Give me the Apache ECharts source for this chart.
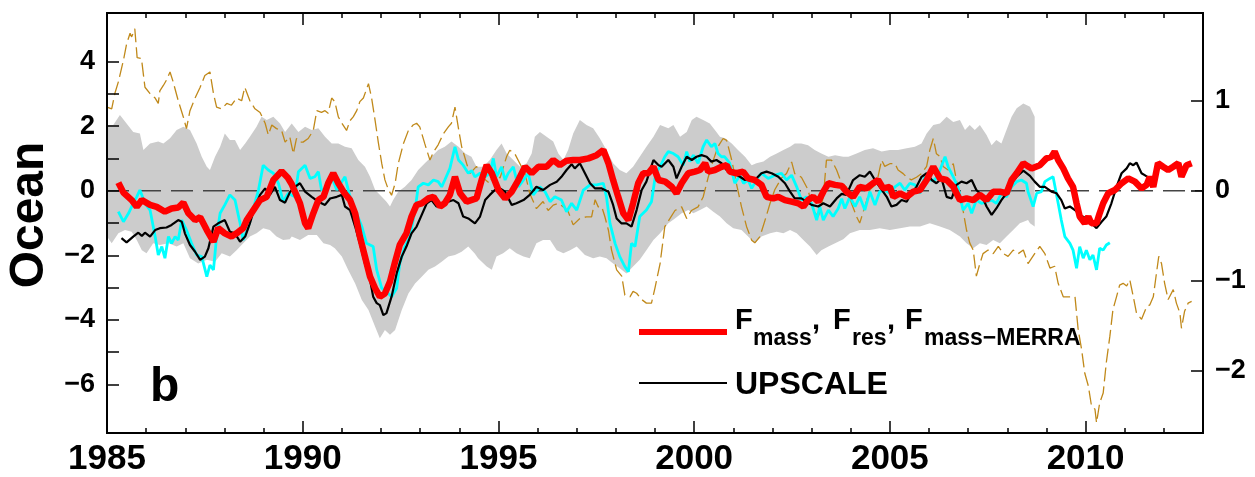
<!DOCTYPE html>
<html>
<head>
<meta charset="utf-8">
<script src="https://cdn.jsdelivr.net/npm/echarts@6/dist/echarts.min.js"></script>
<style>
    html, body { margin: 0; padding: 0; background: #fff; }
    #chart { width: 1255px; height: 477px; }
</style>
</head>
<body>
<div id="chart"></div>
<script>
// ticks and labels
const majorYears = [1985, 1990, 1995, 2000, 2005, 2010];
const minorYears = [1986, 1987, 1988, 1989, 1991, 1992, 1993, 1994, 1996, 1997, 1998, 1999,
    2001, 2002, 2003, 2004, 2006, 2007, 2008, 2009, 2011, 2012];
const leftTicks = [-6, -5, -4, -3, -2, -1, 0, 1, 2, 3, 4];
const leftLabels = [-6, -4, -2, 0, 2, 4];
const rightTicks = [-2, -1, 0, 1];
const rightPerLeft = 2.784; // left units per right unit

// grey spread, left axis
const bandUpper = [[1985.00,2.03],[1985.16,2.03],[1985.33,2.34],[1985.50,2.08],[1985.67,1.82],[1985.84,1.77],[1985.93,1.26],[1986.10,1.46],[1986.31,1.52],[1986.44,1.46],[1986.61,1.62],[1986.78,1.88],[1986.95,1.98],[1987.12,1.88],[1987.29,1.46],[1987.42,1.05],[1987.55,0.74],[1987.63,0.64],[1987.76,1.05],[1987.89,1.36],[1988.01,1.77],[1988.14,1.57],[1988.27,1.57],[1988.40,1.26],[1988.53,1.46],[1988.65,1.67],[1988.82,1.98],[1988.95,2.29],[1989.08,2.19],[1989.25,2.29],[1989.42,2.08],[1989.55,1.82],[1989.72,2.08],[1989.89,1.82],[1990.06,1.98],[1990.23,1.88],[1990.40,1.93],[1990.57,1.67],[1990.74,1.46],[1990.91,1.46],[1991.08,1.36],[1991.25,1.31],[1991.42,0.95],[1991.59,0.74],[1991.72,0.43],[1991.85,0.02],[1992.02,-0.19],[1992.14,-0.34],[1992.23,-0.49],[1992.31,-0.29],[1992.44,-0.03],[1992.61,0.12],[1992.78,0.33],[1992.95,0.64],[1993.12,0.85],[1993.29,1.05],[1993.46,1.26],[1993.63,1.36],[1993.80,1.52],[1993.98,1.36],[1994.15,1.15],[1994.31,1.05],[1994.44,0.74],[1994.61,0.74],[1994.78,0.95],[1994.95,1.26],[1995.08,1.46],[1995.21,1.15],[1995.38,0.95],[1995.55,0.74],[1995.72,0.85],[1995.85,1.15],[1995.93,1.67],[1996.06,1.82],[1996.23,1.67],[1996.40,1.52],[1996.53,1.15],[1996.66,0.95],[1996.78,1.26],[1996.91,1.77],[1997.08,2.19],[1997.25,2.03],[1997.42,1.93],[1997.59,1.62],[1997.76,1.26],[1997.93,0.85],[1998.10,0.64],[1998.27,0.54],[1998.44,0.74],[1998.61,1.05],[1998.78,1.36],[1998.96,1.67],[1999.13,2.03],[1999.34,1.93],[1999.47,2.03],[1999.64,1.67],[1999.81,1.82],[1999.94,2.19],[2000.06,2.29],[2000.23,2.19],[2000.40,2.08],[2000.53,1.88],[2000.66,1.67],[2000.79,1.62],[2000.96,1.46],[2001.12,1.26],[2001.30,1.05],[2001.47,0.79],[2001.59,0.85],[2001.77,0.90],[2001.94,1.05],[2002.11,1.15],[2002.28,1.26],[2002.45,1.36],[2002.57,1.46],[2002.74,1.46],[2002.91,1.41],[2003.08,1.26],[2003.25,1.15],[2003.43,1.05],[2003.60,1.10],[2003.81,1.05],[2003.94,1.05],[2004.15,1.15],[2004.36,1.26],[2004.57,1.31],[2004.79,1.21],[2005.00,1.26],[2005.21,1.26],[2005.43,1.31],[2005.64,1.36],[2005.81,1.46],[2005.94,1.77],[2006.11,2.03],[2006.28,2.08],[2006.45,2.29],[2006.62,2.13],[2006.79,2.19],[2006.92,1.88],[2007.04,2.03],[2007.17,1.88],[2007.30,2.03],[2007.47,1.72],[2007.60,1.41],[2007.72,1.57],[2007.85,1.46],[2007.98,1.88],[2008.11,2.29],[2008.24,2.55],[2008.41,2.70],[2008.58,2.60],[2008.70,2.29]];
const bandLower = [[1985.00,-1.42],[1985.12,-1.63],[1985.29,-1.32],[1985.46,-1.22],[1985.63,-1.27],[1985.76,-1.53],[1985.89,-1.84],[1986.01,-1.94],[1986.18,-1.63],[1986.35,-1.68],[1986.57,-1.63],[1986.78,-1.73],[1986.95,-1.63],[1987.12,-2.09],[1987.33,-2.25],[1987.55,-2.14],[1987.76,-2.20],[1987.93,-1.94],[1988.14,-2.04],[1988.31,-1.84],[1988.48,-1.63],[1988.65,-1.42],[1988.82,-1.32],[1988.99,-1.16],[1989.16,-1.22],[1989.33,-1.42],[1989.50,-1.53],[1989.67,-1.50],[1989.72,-1.42],[1989.93,-1.53],[1990.14,-1.37],[1990.36,-1.37],[1990.53,-1.63],[1990.70,-1.68],[1990.82,-1.78],[1991.00,-2.04],[1991.16,-2.45],[1991.34,-2.87],[1991.51,-3.38],[1991.68,-3.69],[1991.85,-4.21],[1991.97,-4.57],[1992.10,-4.31],[1992.23,-4.46],[1992.36,-4.31],[1992.53,-3.69],[1992.70,-3.18],[1992.87,-2.87],[1993.04,-2.66],[1993.21,-2.45],[1993.38,-2.35],[1993.55,-2.20],[1993.72,-2.04],[1993.89,-1.99],[1994.06,-1.89],[1994.23,-1.73],[1994.40,-1.95],[1994.48,-2.09],[1994.70,-2.35],[1994.83,-2.45],[1994.95,-2.04],[1995.12,-1.94],[1995.29,-1.78],[1995.46,-1.94],[1995.64,-2.04],[1995.80,-2.09],[1995.97,-1.63],[1996.14,-1.53],[1996.32,-1.53],[1996.49,-1.84],[1996.66,-1.94],[1996.83,-1.84],[1997.00,-1.73],[1997.21,-1.99],[1997.42,-2.09],[1997.59,-2.04],[1997.76,-2.09],[1997.93,-2.25],[1998.10,-2.40],[1998.27,-2.56],[1998.44,-2.35],[1998.61,-2.14],[1998.78,-1.84],[1998.96,-1.53],[1999.13,-1.32],[1999.34,-1.01],[1999.51,-0.86],[1999.68,-0.70],[1999.85,-0.60],[1999.98,-0.70],[2000.15,-0.60],[2000.32,-0.49],[2000.49,-0.65],[2000.66,-0.80],[2000.83,-1.01],[2001.00,-1.16],[2001.21,-1.22],[2001.38,-1.42],[2001.55,-1.63],[2001.72,-1.42],[2001.94,-1.32],[2002.11,-1.27],[2002.28,-1.32],[2002.45,-1.22],[2002.62,-1.32],[2002.79,-1.53],[2002.96,-1.73],[2003.13,-1.99],[2003.25,-1.84],[2003.43,-1.73],[2003.60,-1.63],[2003.81,-1.50],[2003.98,-1.32],[2004.23,-1.22],[2004.49,-1.22],[2004.74,-1.16],[2005.00,-1.22],[2005.26,-1.16],[2005.51,-1.11],[2005.77,-1.11],[2006.02,-1.01],[2006.28,-1.11],[2006.53,-1.22],[2006.79,-1.42],[2006.96,-1.63],[2007.13,-1.78],[2007.30,-1.63],[2007.47,-1.68],[2007.64,-1.53],[2007.81,-1.63],[2007.98,-1.42],[2008.15,-1.22],[2008.32,-1.01],[2008.53,-0.91],[2008.58,-1.01],[2008.70,-1.11]];

// F_mass, F_res, F_mass-MERRA (red)
const fmass = [[1985.29,0.25],[1985.42,-0.06],[1985.63,-0.29],[1985.76,-0.50],[1985.89,-0.29],[1986.10,-0.44],[1986.27,-0.50],[1986.48,-0.65],[1986.65,-0.55],[1986.82,-0.52],[1986.95,-0.37],[1987.08,-0.70],[1987.25,-0.91],[1987.38,-0.82],[1987.55,-1.22],[1987.72,-1.58],[1987.84,-1.16],[1988.01,-1.32],[1988.18,-1.42],[1988.31,-1.32],[1988.48,-1.16],[1988.57,-0.91],[1988.74,-0.60],[1988.91,-0.29],[1989.08,-0.19],[1989.25,0.33],[1989.46,0.60],[1989.62,0.40],[1989.72,0.20],[1989.80,-0.03],[1989.93,-0.39],[1990.06,-1.01],[1990.14,-1.16],[1990.27,-0.70],[1990.40,-0.29],[1990.53,-0.19],[1990.65,0.23],[1990.78,0.54],[1990.91,0.23],[1991.04,-0.03],[1991.21,-0.29],[1991.34,-0.70],[1991.46,-1.42],[1991.59,-2.04],[1991.72,-2.66],[1991.85,-3.02],[1991.97,-3.28],[1992.10,-3.18],[1992.23,-2.81],[1992.36,-2.20],[1992.48,-1.68],[1992.65,-1.32],[1992.78,-0.80],[1992.91,-0.44],[1993.04,-0.39],[1993.21,-0.24],[1993.34,-0.19],[1993.51,-0.49],[1993.63,-0.39],[1993.76,-0.13],[1993.89,0.43],[1994.02,-0.08],[1994.19,-0.34],[1994.36,-0.27],[1994.44,-0.24],[1994.57,0.33],[1994.70,0.79],[1994.83,0.54],[1995.00,0.02],[1995.17,-0.24],[1995.34,-0.03],[1995.51,0.33],[1995.68,0.74],[1995.85,0.54],[1996.02,0.74],[1996.23,0.74],[1996.40,0.95],[1996.57,0.79],[1996.74,0.93],[1996.91,0.95],[1997.08,0.95],[1997.30,1.00],[1997.51,1.10],[1997.68,1.26],[1997.81,0.85],[1997.93,0.33],[1998.06,-0.19],[1998.19,-0.70],[1998.32,-0.91],[1998.44,-0.39],[1998.57,0.23],[1998.70,0.54],[1998.83,0.54],[1998.96,0.74],[1999.09,0.33],[1999.26,0.28],[1999.43,0.12],[1999.55,-0.08],[1999.68,0.23],[1999.85,0.54],[2000.02,0.59],[2000.15,0.64],[2000.28,0.85],[2000.36,0.59],[2000.53,0.64],[2000.70,0.74],[2000.83,0.79],[2000.91,0.59],[2001.08,0.54],[2001.25,0.59],[2001.38,0.38],[2001.55,0.33],[2001.72,0.18],[2001.85,-0.19],[2002.02,-0.24],[2002.15,-0.19],[2002.32,-0.29],[2002.49,-0.34],[2002.66,-0.39],[2002.79,-0.49],[2002.91,-0.29],[2003.04,-0.19],[2003.17,-0.34],[2003.30,-0.03],[2003.43,0.23],[2003.60,0.18],[2003.77,0.15],[2003.89,-0.03],[2004.06,-0.19],[2004.23,0.12],[2004.40,0.07],[2004.57,0.23],[2004.70,0.33],[2004.83,0.07],[2005.00,0.12],[2005.09,-0.19],[2005.26,-0.08],[2005.43,-0.19],[2005.60,-0.03],[2005.77,0.02],[2005.94,0.33],[2006.11,0.74],[2006.28,0.38],[2006.45,0.33],[2006.62,0.12],[2006.79,-0.29],[2006.96,-0.24],[2007.13,-0.29],[2007.30,-0.13],[2007.47,-0.29],[2007.64,-0.03],[2007.81,-0.03],[2007.98,-0.08],[2008.11,0.33],[2008.24,0.54],[2008.41,0.85],[2008.52,0.76],[2008.62,0.69],[2008.83,0.79],[2009.00,1.00],[2009.13,1.05],[2009.21,1.21],[2009.30,0.95],[2009.43,0.69],[2009.55,0.38],[2009.68,0.12],[2009.77,-0.39],[2009.85,-0.80],[2009.98,-1.01],[2010.07,-0.80],[2010.15,-1.01],[2010.28,-1.01],[2010.36,-0.70],[2010.45,-0.39],[2010.58,-0.08],[2010.75,0.02],[2010.92,0.23],[2011.09,0.38],[2011.26,0.28],[2011.43,0.07],[2011.56,0.18],[2011.64,0.43],[2011.73,0.12],[2011.85,0.85],[2011.98,0.74],[2012.11,0.64],[2012.24,0.74],[2012.37,0.85],[2012.45,0.43],[2012.58,0.79],[2012.71,0.85]];

// UPSCALE (black)
const upscale = [[1985.37,-1.47],[1985.50,-1.60],[1985.67,-1.42],[1985.80,-1.30],[1985.89,-1.40],[1985.97,-1.30],[1986.10,-1.42],[1986.23,-1.22],[1986.35,-1.16],[1986.52,-1.14],[1986.65,-1.06],[1986.82,-0.91],[1986.91,-0.96],[1986.99,-1.32],[1987.12,-1.68],[1987.25,-1.89],[1987.38,-2.14],[1987.50,-2.04],[1987.59,-1.78],[1987.72,-1.11],[1987.84,-1.01],[1988.01,-0.91],[1988.14,-1.27],[1988.27,-1.32],[1988.40,-1.58],[1988.53,-1.42],[1988.65,-1.01],[1988.78,-0.49],[1988.91,-0.13],[1989.04,0.07],[1989.16,-0.13],[1989.29,0.12],[1989.42,-0.29],[1989.55,-0.37],[1989.68,-0.03],[1989.80,0.12],[1989.93,0.23],[1990.06,-0.03],[1990.23,-0.19],[1990.40,-0.34],[1990.57,-0.44],[1990.70,-0.24],[1990.87,-0.19],[1991.00,-0.13],[1991.08,-0.49],[1991.21,-0.60],[1991.34,-1.11],[1991.46,-1.63],[1991.59,-2.25],[1991.72,-2.76],[1991.80,-3.28],[1991.89,-3.48],[1991.97,-3.54],[1992.06,-3.85],[1992.14,-3.79],[1992.27,-3.28],[1992.40,-2.56],[1992.53,-2.04],[1992.65,-1.73],[1992.78,-1.32],[1992.91,-1.11],[1993.04,-0.75],[1993.17,-0.39],[1993.29,-0.29],[1993.42,-0.49],[1993.55,-0.49],[1993.72,-0.34],[1993.85,-0.29],[1993.98,-0.39],[1994.10,-0.80],[1994.23,-0.86],[1994.40,-1.01],[1994.53,-0.80],[1994.66,-0.29],[1994.78,-0.13],[1994.91,0.02],[1995.04,0.07],[1995.17,-0.03],[1995.34,-0.44],[1995.46,-0.39],[1995.64,-0.29],[1995.80,-0.13],[1995.97,0.12],[1996.14,0.02],[1996.32,0.18],[1996.49,0.28],[1996.61,0.43],[1996.74,0.64],[1996.87,0.82],[1996.95,0.69],[1997.08,0.85],[1997.21,0.54],[1997.34,0.23],[1997.47,0.07],[1997.64,0.07],[1997.81,-0.03],[1997.93,-0.44],[1998.02,-0.86],[1998.14,-1.01],[1998.27,-1.01],[1998.40,-1.11],[1998.53,-0.60],[1998.66,0.02],[1998.78,0.28],[1998.96,0.95],[1999.08,0.80],[1999.17,0.74],[1999.34,0.95],[1999.47,0.74],[1999.55,0.38],[1999.68,0.74],[1999.81,1.05],[1999.94,0.95],[2000.06,1.05],[2000.19,1.10],[2000.32,1.05],[2000.44,0.90],[2000.57,0.95],[2000.70,0.85],[2000.83,0.64],[2001.00,0.54],[2001.17,0.43],[2001.30,0.33],[2001.42,0.38],[2001.55,0.33],[2001.72,0.54],[2001.85,0.59],[2001.98,0.54],[2002.15,0.43],[2002.32,0.23],[2002.45,-0.03],[2002.57,-0.24],[2002.74,-0.24],[2002.87,-0.34],[2003.00,-0.44],[2003.17,-0.49],[2003.30,-0.39],[2003.47,-0.49],[2003.64,-0.24],[2003.77,-0.10],[2003.89,-0.13],[2004.06,0.33],[2004.23,0.48],[2004.36,0.43],[2004.49,0.59],[2004.62,0.33],[2004.74,0.12],[2004.92,-0.19],[2005.04,-0.49],[2005.17,-0.44],[2005.30,-0.29],[2005.43,-0.34],[2005.55,-0.08],[2005.68,0.12],[2005.81,0.43],[2005.94,0.54],[2006.07,0.33],[2006.19,0.23],[2006.32,0.38],[2006.45,-0.19],[2006.58,-0.24],[2006.70,0.18],[2006.83,0.28],[2006.96,0.23],[2007.09,0.33],[2007.21,0.02],[2007.34,-0.13],[2007.47,-0.49],[2007.60,-0.75],[2007.72,-0.55],[2007.85,-0.29],[2007.98,-0.08],[2008.11,0.23],[2008.24,0.43],[2008.41,0.62],[2008.58,0.46],[2008.70,0.28],[2008.83,0.12],[2008.96,0.12],[2009.13,-0.03],[2009.26,-0.08],[2009.38,-0.29],[2009.47,-0.55],[2009.60,-0.49],[2009.73,-0.60],[2009.85,-0.75],[2010.02,-0.86],[2010.15,-1.01],[2010.28,-1.16],[2010.41,-0.96],[2010.53,-0.80],[2010.66,-0.39],[2010.79,0.12],[2010.92,0.54],[2011.05,0.69],[2011.13,0.85],[2011.22,0.79],[2011.30,0.87],[2011.43,0.54],[2011.51,0.48],[2011.64,0.38]];

// cyan series, left axis
const cyanSeries = [[1985.29,-0.65],[1985.42,-0.96],[1985.55,-0.70],[1985.67,-0.39],[1985.76,-0.19],[1985.84,0.02],[1985.97,-0.39],[1986.10,-0.60],[1986.23,-1.42],[1986.31,-1.99],[1986.40,-1.73],[1986.48,-2.09],[1986.57,-1.42],[1986.65,-1.63],[1986.74,-1.42],[1986.82,-1.53],[1986.91,-0.91],[1987.03,-1.22],[1987.16,-1.63],[1987.29,-1.99],[1987.42,-2.04],[1987.55,-2.66],[1987.63,-2.30],[1987.72,-2.45],[1987.80,-1.42],[1987.89,-0.70],[1988.01,-0.44],[1988.14,-0.13],[1988.27,-0.29],[1988.40,-1.01],[1988.48,-1.53],[1988.61,-1.11],[1988.74,-0.55],[1988.87,0.02],[1988.99,0.79],[1989.12,0.64],[1989.25,0.54],[1989.38,0.23],[1989.50,-0.34],[1989.63,-0.08],[1989.80,-0.19],[1989.89,0.59],[1990.06,0.79],[1990.19,0.38],[1990.31,0.43],[1990.40,0.59],[1990.48,0.02],[1990.61,0.07],[1990.74,0.43],[1990.87,0.02],[1991.00,0.28],[1991.08,0.43],[1991.21,-0.19],[1991.34,-0.60],[1991.51,-1.11],[1991.63,-1.63],[1991.80,-1.73],[1991.89,-2.45],[1992.02,-3.02],[1992.14,-3.12],[1992.27,-3.28],[1992.40,-3.02],[1992.48,-2.25],[1992.61,-1.73],[1992.74,-1.42],[1992.87,-0.60],[1992.95,0.12],[1993.08,0.23],[1993.21,0.18],[1993.34,0.33],[1993.46,0.28],[1993.55,0.12],[1993.63,0.33],[1993.76,0.69],[1993.89,1.36],[1993.98,0.95],[1994.10,0.79],[1994.23,0.54],[1994.32,0.62],[1994.40,0.43],[1994.53,0.54],[1994.66,0.43],[1994.78,0.54],[1994.87,1.00],[1994.95,0.43],[1995.08,0.74],[1995.17,0.33],[1995.25,0.54],[1995.38,0.74],[1995.51,0.12],[1995.64,0.33],[1995.76,0.54],[1995.89,-0.13],[1996.06,0.12],[1996.19,-0.03],[1996.32,-0.34],[1996.44,-0.19],[1996.61,-0.29],[1996.74,-0.65],[1996.87,-0.39],[1997.00,-0.60],[1997.17,0.02],[1997.34,0.18],[1997.51,0.18],[1997.68,0.23],[1997.76,-0.19],[1997.85,-1.01],[1997.98,-1.63],[1998.10,-2.04],[1998.23,-2.35],[1998.32,-2.51],[1998.40,-1.63],[1998.49,-1.73],[1998.61,-0.80],[1998.78,-0.60],[1998.91,-0.34],[1999.02,0.55],[1999.13,0.74],[1999.25,1.05],[1999.34,1.21],[1999.47,1.15],[1999.59,1.05],[1999.72,0.79],[1999.81,1.21],[1999.89,0.90],[1999.98,1.10],[2000.10,0.85],[2000.23,1.36],[2000.32,1.57],[2000.44,1.36],[2000.53,1.46],[2000.61,1.15],[2000.70,1.05],[2000.78,1.05],[2000.91,0.85],[2001.04,0.23],[2001.17,0.48],[2001.26,0.23],[2001.38,0.33],[2001.47,0.07],[2001.59,0.33],[2001.72,0.54],[2001.89,0.38],[2002.06,0.48],[2002.23,0.54],[2002.36,0.33],[2002.49,0.48],[2002.62,0.12],[2002.74,-0.29],[2002.87,-0.19],[2003.00,-0.39],[2003.13,-0.91],[2003.21,-0.49],[2003.30,-0.91],[2003.43,-0.60],[2003.55,-0.80],[2003.68,-0.55],[2003.77,-0.25],[2003.85,-0.55],[2003.98,-0.19],[2004.11,-0.49],[2004.23,-0.19],[2004.36,-0.60],[2004.49,-0.03],[2004.62,-0.44],[2004.74,-0.03],[2004.87,0.02],[2005.00,-0.08],[2005.13,0.12],[2005.26,0.23],[2005.38,0.02],[2005.51,0.23],[2005.64,0.18],[2005.77,-0.08],[2005.89,0.43],[2006.02,0.33],[2006.15,0.33],[2006.28,0.64],[2006.41,1.05],[2006.49,0.74],[2006.62,0.43],[2006.75,0.07],[2006.87,-0.60],[2007.00,-0.39],[2007.09,-0.70],[2007.21,-0.29],[2007.34,-0.39],[2007.47,-0.34],[2007.60,-0.29],[2007.72,-0.39],[2007.85,-0.08],[2007.98,-0.19],[2008.11,0.12],[2008.24,0.28],[2008.36,0.33],[2008.49,0.23],[2008.53,-0.03],[2008.66,-0.49],[2008.75,-0.08],[2008.87,-0.03],[2008.96,0.28],[2009.09,0.38],[2009.17,0.43],[2009.21,0.48],[2009.30,-0.39],[2009.38,-0.91],[2009.47,-1.42],[2009.60,-1.63],[2009.68,-1.84],[2009.77,-2.40],[2009.85,-1.73],[2009.94,-2.09],[2010.02,-1.84],[2010.11,-2.14],[2010.19,-1.99],[2010.28,-2.45],[2010.36,-1.78],[2010.45,-1.84],[2010.53,-1.68],[2010.62,-1.61]];

// brown dashed series, right axis
const brownSeries = [[1985.00,0.93],[1985.12,0.91],[1985.20,1.08],[1985.29,1.21],[1985.42,1.45],[1985.50,1.63],[1985.59,1.75],[1985.63,1.71],[1985.71,1.80],[1985.77,1.48],[1985.88,1.47],[1985.97,1.15],[1986.10,1.08],[1986.23,1.03],[1986.31,0.97],[1986.35,1.11],[1986.44,1.17],[1986.52,1.23],[1986.61,1.32],[1986.69,1.21],[1986.82,1.00],[1986.95,0.82],[1987.03,0.69],[1987.12,0.89],[1987.25,1.03],[1987.38,1.15],[1987.50,1.28],[1987.63,1.32],[1987.72,1.08],[1987.80,0.93],[1987.93,0.91],[1988.06,0.97],[1988.18,0.95],[1988.31,1.03],[1988.44,1.00],[1988.52,1.15],[1988.65,1.00],[1988.78,0.91],[1988.91,0.87],[1989.04,0.75],[1989.12,0.62],[1989.21,0.73],[1989.33,0.69],[1989.46,0.67],[1989.55,0.54],[1989.67,0.60],[1989.76,0.41],[1989.84,0.58],[1989.93,0.54],[1990.01,0.54],[1990.14,0.58],[1990.27,0.67],[1990.36,0.89],[1990.48,0.87],[1990.57,0.89],[1990.65,0.86],[1990.74,1.03],[1990.82,0.99],[1990.91,0.82],[1991.00,0.75],[1991.12,0.67],[1991.21,0.78],[1991.29,0.82],[1991.38,0.89],[1991.46,0.99],[1991.55,1.03],[1991.68,1.19],[1991.76,1.03],[1991.85,0.78],[1991.93,0.54],[1992.02,0.30],[1992.10,0.12],[1992.19,0.01],[1992.27,-0.05],[1992.36,0.08],[1992.44,0.30],[1992.57,0.52],[1992.70,0.67],[1992.82,0.73],[1992.91,0.75],[1992.99,0.71],[1993.12,0.52],[1993.25,0.34],[1993.34,0.43],[1993.46,0.51],[1993.59,0.63],[1993.72,0.71],[1993.80,0.75],[1993.89,0.93],[1993.98,0.69],[1994.06,0.49],[1994.19,0.30],[1994.27,0.19],[1994.44,0.27],[1994.61,0.14],[1994.78,0.08],[1994.91,0.23],[1995.04,0.14],[1995.21,0.38],[1995.29,0.45],[1995.42,0.41],[1995.55,0.30],[1995.68,0.19],[1995.80,-0.03],[1995.97,-0.20],[1996.14,-0.12],[1996.27,-0.22],[1996.40,-0.16],[1996.53,-0.14],[1996.66,-0.18],[1996.78,-0.23],[1996.91,-0.38],[1997.08,-0.31],[1997.25,-0.29],[1997.38,-0.29],[1997.47,-0.10],[1997.55,-0.18],[1997.64,-0.18],[1997.72,-0.29],[1997.81,-0.44],[1997.89,-0.66],[1998.02,-0.88],[1998.15,-0.95],[1998.23,-1.16],[1998.36,-1.18],[1998.44,-1.12],[1998.53,-1.14],[1998.66,-1.21],[1998.78,-1.25],[1998.91,-1.25],[1999.00,-1.08],[1999.13,-0.81],[1999.25,-0.40],[1999.51,-0.22],[1999.68,-0.18],[1999.81,-0.31],[1999.93,-0.22],[2000.10,-0.18],[2000.23,-0.07],[2000.36,0.15],[2000.49,0.34],[2000.61,0.49],[2000.74,0.58],[2000.83,0.56],[2000.96,0.34],[2001.08,0.08],[2001.21,-0.18],[2001.34,-0.40],[2001.47,-0.55],[2001.55,-0.58],[2001.68,-0.51],[2001.81,-0.33],[2001.94,-0.14],[2002.06,0.01],[2002.23,0.14],[2002.36,0.19],[2002.49,0.32],[2002.57,0.19],[2002.74,0.15],[2002.91,0.01],[2003.04,-0.22],[2003.17,-0.29],[2003.30,-0.07],[2003.38,0.34],[2003.51,0.34],[2003.64,0.23],[2003.77,0.08],[2003.89,0.04],[2004.02,-0.14],[2004.15,-0.29],[2004.23,-0.36],[2004.36,-0.18],[2004.49,0.01],[2004.66,0.08],[2004.79,0.34],[2004.87,0.27],[2005.00,0.30],[2005.13,0.30],[2005.21,0.23],[2005.34,0.19],[2005.43,0.15],[2005.55,0.12],[2005.68,0.15],[2005.81,0.19],[2005.94,0.27],[2006.02,0.45],[2006.11,0.58],[2006.19,0.41],[2006.28,0.38],[2006.36,0.27],[2006.49,0.23],[2006.62,0.30],[2006.75,0.01],[2006.87,-0.22],[2006.96,-0.44],[2007.04,-0.58],[2007.13,-0.66],[2007.21,-0.95],[2007.30,-0.81],[2007.38,-0.70],[2007.51,-0.66],[2007.64,-0.70],[2007.77,-0.62],[2007.90,-0.70],[2008.02,-0.73],[2008.15,-0.66],[2008.28,-0.70],[2008.41,-0.66],[2008.53,-0.81],[2008.70,-0.70],[2008.83,-0.62],[2008.96,-0.70],[2009.09,-0.86],[2009.21,-0.84],[2009.30,-1.03],[2009.43,-1.18],[2009.55,-1.18],[2009.73,-1.18],[2009.81,-1.54],[2009.90,-1.77],[2009.98,-2.03],[2010.07,-2.17],[2010.15,-2.39],[2010.24,-2.43],[2010.28,-2.58],[2010.36,-2.36],[2010.45,-2.25],[2010.53,-1.91],[2010.62,-1.62],[2010.70,-1.32],[2010.79,-1.18],[2010.87,-1.05],[2010.96,-1.03],[2011.05,-1.06],[2011.13,-0.99],[2011.22,-1.18],[2011.30,-1.36],[2011.43,-1.43],[2011.56,-1.29],[2011.64,-1.27],[2011.73,-1.18],[2011.81,-0.92],[2011.87,-0.73],[2011.94,-0.81],[2012.02,-1.03],[2012.11,-1.21],[2012.24,-1.10],[2012.32,-1.25],[2012.41,-1.36],[2012.45,-1.53],[2012.53,-1.34],[2012.62,-1.25],[2012.71,-1.23]];

const zeroLine = [[1985, 0], [2013, 0]];

const FONT = "Liberation Sans";
const minus = (v) => String(v).replace("-", "\u2212");

// white mask under the spread; runs a hair past the grey so no seam shows
const lastLower = bandLower[bandLower.length - 1];
const maskData = bandLower.concat([[lastLower[0] + 0.06, lastLower[1]]]);

const xAxisBase = (position, ticks, length, showLabel) => ({
    type: "value",
    position: position,
    min: 1985,
    max: 2013,
    z: 10,
    splitLine: { show: false },
    axisLine: { show: true, onZero: false, lineStyle: { color: "#000", width: 2 } },
    axisTick: {
        show: true,
        inside: true,
        length: length,
        customValues: ticks,
        lineStyle: { color: "#000", width: 1.5 },
    },
    axisLabel: {
        show: showLabel,
        customValues: ticks,
        margin: 9,
        color: "#000",
        fontFamily: FONT,
        fontWeight: "bold",
        fontSize: 35,
        formatter: (v) => String(v),
    },
});

const yAxisBase = (position, min, max, ticks, labels) => ({
    type: "value",
    position: position,
    min: min,
    max: max,
    z: 10,
    splitLine: { show: false },
    axisLine: { show: true, onZero: false, lineStyle: { color: "#000", width: 2 } },
    axisTick: {
        show: true,
        inside: true,
        length: 12,
        customValues: ticks,
        lineStyle: { color: "#000", width: 1.5 },
    },
    axisLabel: {
        customValues: labels,
        margin: 12,
        color: "#000",
        fontFamily: FONT,
        fontWeight: "bold",
        fontSize: 27,
        formatter: minus,
    },
});

const chart = echarts.init(document.getElementById("chart"), null, { renderer: "canvas" });

const bigFont = "bold 29px \"" + FONT + "\"";
const subFont = "bold 23px \"" + FONT + "\"";
const txt = (x, y, text, font, extra) => Object.assign({
    type: "text",
    x: x,
    y: y,
    z: 100,
    style: {
        text: text,
        font: font,
        fill: "#000",
        verticalAlign: "top",
        textVerticalAlign: "top",
    },
}, extra || {});

const option = {
    animation: false,
    backgroundColor: "#fff",
    grid: { left: 107, right: 52, top: 13, bottom: 44, containLabel: false },
    xAxis: [
        xAxisBase("bottom", majorYears, 12, true),
        xAxisBase("bottom", minorYears, 5, false),
        xAxisBase("top", majorYears, 12, false),
        xAxisBase("top", minorYears, 5, false),
    ],
    yAxis: [
        yAxisBase("left", -7.5, 5.5, leftTicks, leftLabels),
        yAxisBase("right", -7.5 / rightPerLeft, 5.5 / rightPerLeft, rightTicks, rightTicks),
    ],
    series: [
        {
            name: "spread",
            type: "line",
            data: bandUpper,
            symbol: "none",
            silent: true,
            lineStyle: { width: 0 },
            areaStyle: { color: "#cccccc", opacity: 1, origin: "start" },
        },
        {
            name: "spread-mask",
            type: "line",
            data: maskData,
            symbol: "none",
            silent: true,
            lineStyle: { width: 0 },
            areaStyle: { color: "#ffffff", opacity: 1, origin: "start" },
        },
        {
            name: "zero",
            type: "line",
            data: zeroLine,
            symbol: "none",
            silent: true,
            lineStyle: { color: "#444", width: 1.5, type: [22, 10] },
        },
        {
            name: "brown",
            type: "line",
            yAxisIndex: 1,
            data: brownSeries,
            symbol: "none",
            lineStyle: { color: "#c0891a", width: 1.3, type: [14, 5] },
        },
        {
            name: "cyan",
            type: "line",
            data: cyanSeries,
            symbol: "none",
            lineStyle: { color: "#00ffff", width: 2.8 },
        },
        {
            name: "UPSCALE",
            type: "line",
            data: upscale,
            symbol: "none",
            lineStyle: { color: "#000", width: 2.2 },
        },
        {
            name: "Fmass",
            type: "line",
            data: fmass,
            symbol: "none",
            lineStyle: { color: "#ff0000", width: 6.5 },
        },
    ],
    graphic: [
        txt(30, 215, "Ocean", "bold 48px \"" + FONT + "\"", {
            rotation: Math.PI / 2,
            style: {
                text: "Ocean",
                font: "bold 48px \"" + FONT + "\"",
                fill: "#000",
                align: "center",
                verticalAlign: "middle",
                textAlign: "center",
                textVerticalAlign: "middle",
            },
        }),
        txt(150, 364, "b", "bold 48px \"" + FONT + "\""),
        {
            type: "line",
            z: 100,
            shape: { x1: 639, y1: 332, x2: 727, y2: 332 },
            style: { stroke: "#ff0000", lineWidth: 6 },
        },
        {
            type: "line",
            z: 100,
            shape: { x1: 639, y1: 383, x2: 727, y2: 383 },
            style: { stroke: "#000", lineWidth: 2 },
        },
        txt(735, 306, "F", bigFont),
        txt(753, 327, "mass", subFont),
        txt(812, 306, ",", bigFont),
        txt(833, 306, "F", bigFont),
        txt(852, 327, "res", subFont),
        txt(887, 306, ",", bigFont),
        txt(905, 306, "F", bigFont),
        txt(924, 327, "mass\u2212MERRA", subFont),
        txt(735, 369, "UPSCALE", "bold 32px \"" + FONT + "\""),
    ],
};

chart.setOption(option);
</script>
</body>
</html>
